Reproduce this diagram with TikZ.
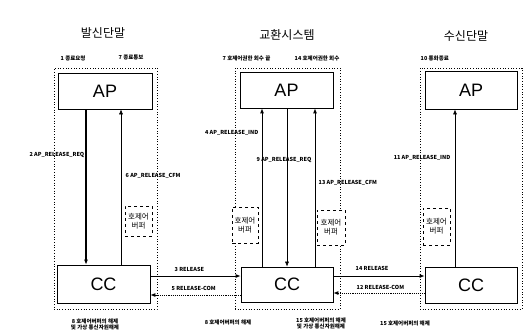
\documentclass[tikz,border=0pt]{standalone}
\usepackage{fontspec}
\setmainfont{Noto Sans CJK KR}
\newfontfamily\boxfont{Liberation Sans}
\usetikzlibrary{arrows.meta}
\tikzset{
  frame/.style={draw, dotted, line width=0.7pt, inner sep=0pt},
  unit/.style={draw, line width=0.7pt, fill=white, inner sep=0pt, font=\boxfont\fontsize{18}{18}\selectfont},
  buf/.style={draw, dashed, line width=0.5pt, fill=white, inner sep=0pt, align=center, font=\fontsize{7.5}{9}\selectfont},
  title/.style={font=\fontsize{12}{13}\selectfont},
  lab/.style={font=\fontsize{5.5}{6.5}\selectfont\bfseries, inner sep=0.5pt},
  msg/.style={-{Latex[length=5pt,width=4pt]}},
}
\begin{document}
\begin{tikzpicture}[x=1pt,y=-1pt]
\useasboundingbox (0,0) rectangle (524,332);
% frames
\node[frame, minimum width=103, minimum height=241] (lf) at (105.5,188.5) {};
\node[frame, minimum width=105, minimum height=241] (mf) at (287.5,188.5) {};
\node[frame, minimum width=102, minimum height=241] (rf) at (471,188.5) {};
% titles
\node[title] (t1) at (103,33) {발신단말};
\node[title] (t2) at (287,35) {교환시스템};
\node[title] (t3) at (466,36) {수신단말};
% top labels
\node[lab, anchor=west] (l1) at (60,58) {1 종료요청};
\node[lab, anchor=west] (l7a) at (118,58) {7 종료통보};
\node[lab, anchor=west] (l7b) at (222,58) {7 호제어권한 회수 끝};
\node[lab, anchor=west] (l14) at (294,58) {14 호제어권한 회수};
\node[lab, anchor=west] (l10) at (420,58) {10 통화종료};
% AP / CC
\node[unit, minimum width=94, minimum height=36] (ap1) at (105,91) {AP};
\node[unit, minimum width=93, minimum height=36] (ap2) at (286.5,90) {AP};
\node[unit, minimum width=92, minimum height=38] (ap3) at (471,90) {AP};
\node[unit, minimum width=93, minimum height=38] (cc1) at (103.5,284) {CC};
\node[unit, minimum width=92, minimum height=35] (cc2) at (287,284.5) {CC};
\node[unit, minimum width=92, minimum height=36] (cc3) at (471,285) {CC};
% buffers
\node[buf, minimum width=27, minimum height=30] (b1) at (138.5,221) {호제어\\버퍼};
\node[buf, minimum width=26, minimum height=36] (b2) at (245,225) {호제어\\버퍼};
\node[buf, minimum width=28, minimum height=35] (b3) at (331,227.5) {호제어\\버퍼};
\node[buf, minimum width=27, minimum height=37] (b4) at (436.5,226.5) {호제어\\버퍼};
% vertical arrow x positions
\coordinate (x2) at (86,0);
\coordinate (x6) at (121,0);
\coordinate (x4) at (262,0);
\coordinate (x9) at (287,0);
\coordinate (x13) at (315,0);
\coordinate (x11) at (455,0);
\draw[msg, line width=1.3pt] (ap1.south -| x2) -- (cc1.north -| x2);
\draw[msg, line width=0.5pt] (cc1.north -| x6) -- (ap1.south -| x6);
\draw[msg, line width=0.9pt] (cc2.north -| x4) -- (ap2.south -| x4);
\draw[msg, line width=0.5pt] (ap2.south -| x9) -- (cc2.north -| x9);
\draw[msg, line width=0.9pt] (cc2.north -| x13) -- (ap2.south -| x13);
\draw[msg, line width=0.7pt] (cc3.north -| x11) -- (ap3.south -| x11);
% vertical labels
\node[lab, anchor=east] (m2) at (85,155) {2 AP\_RELEASE\_REQ};
\node[lab, anchor=west] (m6) at (125,176) {6 AP\_RELEASE\_CFM};
\node[lab, anchor=east] (m4) at (259,133) {4 AP\_RELEASE\_IND};
\node[lab, anchor=west] (m9) at (256,160) {9 AP\_RELEASE\_REQ};
\node[lab, anchor=west] (m13) at (318,183) {13 AP\_RELEASE\_CFM};
\node[lab, anchor=east] (m11) at (451,158) {11 AP\_RELEASE\_IND};
% horizontal arrows
\coordinate (yA) at (0,276);
\coordinate (yB) at (0,295);
\coordinate (yC) at (0,293);
\draw[msg, line width=0.9pt] (cc1.east |- yA) -- (cc2.west |- yA);
\draw[msg, line width=0.9pt, densely dotted] (cc2.west |- yB) -- (cc1.east |- yB);
\draw[msg, line width=0.9pt] (cc2.east |- yA) -- (cc3.west |- yA);
\draw[msg, line width=0.9pt, densely dotted] (cc3.west |- yC) -- (cc2.east |- yC);
\node[lab, anchor=west] (m3) at (174,269) {3 RELEASE};
\node[lab, anchor=west] (m5) at (171,288) {5 RELEASE-COM};
\node[lab, anchor=west] (m14) at (355,268) {14 RELEASE};
\node[lab, anchor=west] (m12) at (356,287) {12 RELEASE-COM};
% bottom labels
\node[lab, align=center] (n8a) at (95,324.5) {8 호제어버퍼의 해제\\및 가상 통신자원해제};
\node[lab] (n8b) at (228,322) {8 호제어버퍼의 해제};
\node[lab, align=center] (n15a) at (321,323.5) {15 호제어버퍼의 해제\\및 가상 통신자원해제};
\node[lab] (n15b) at (405,323) {15 호제어버퍼의 해제};
\end{tikzpicture}
\end{document}
